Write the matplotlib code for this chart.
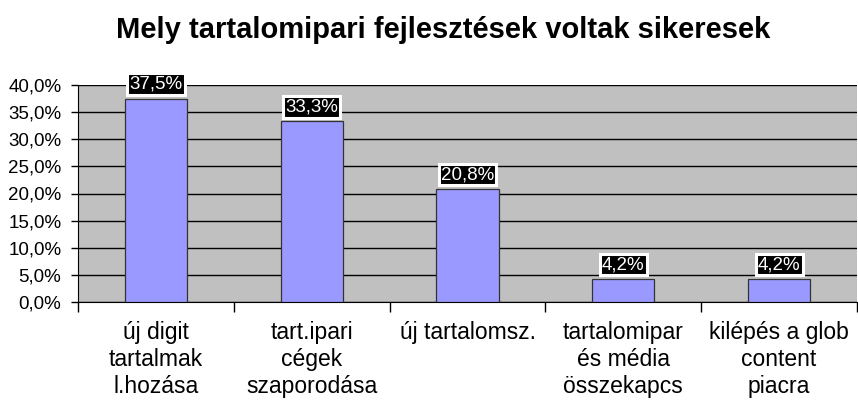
import numpy as np
import matplotlib.pyplot as plt
from matplotlib.ticker import FuncFormatter, MultipleLocator

plt.rcParams['font.family'] = ['Liberation Sans', 'DejaVu Sans']

# categories and their shares (percent)
categories = ['új digit\ntartalmak\nl.hozása', 'tart.ipari\ncégek\nszaporodása',
              'új tartalomsz.', 'tartalomipar\nés média\nösszekapcs', 'kilépés a glob\ncontent\npiacra']
values = [37.5, 33.3, 20.8, 4.2, 4.2]
value_labels = ['37,5%', '33,3%', '20,8%', '4,2%', '4,2%']

fig = plt.figure(figsize=(8.58, 4.09), dpi=100)
ax = fig.add_axes([78 / 858, 1 - 302 / 409, 779 / 858, 217 / 409])

x = np.arange(len(categories))
ax.set_facecolor('#C0C0C0')
ax.bar(x, values, width=0.4, color='#9999FF', edgecolor='#333333', linewidth=0.9, zorder=3)

for xi, v, lab in zip(x, values, value_labels):
    ax.text(xi, v + 1.1, lab, ha='center', va='bottom', color='white', fontsize=13.5, zorder=4,
            bbox=dict(boxstyle='square,pad=0.12', facecolor='black', edgecolor='white', linewidth=2.2))

ax.set_xlim(-0.5, len(categories) - 0.5)
ax.set_ylim(0, 40)
ax.yaxis.set_major_locator(MultipleLocator(5))
ax.yaxis.set_major_formatter(FuncFormatter(lambda v, p: f'{v:.1f}%'.replace('.', ',')))
ax.grid(axis='y', color='black', linewidth=1, zorder=1)
ax.tick_params(axis='y', labelsize=13.5, length=5, width=1, direction='out', pad=7)

ax.set_xticks(np.arange(len(categories) + 1) - 0.5)
ax.set_xticklabels([])
ax.set_xticks(x, minor=True)
ax.set_xticklabels(categories, minor=True, fontsize=16.5, linespacing=1.2)
ax.tick_params(axis='x', which='minor', length=0, pad=14)
ax.tick_params(axis='x', which='major', length=7, width=1, direction='out')

for s in ['top', 'right']:
    ax.spines[s].set_visible(False)
ax.spines['left'].set_color('black')
ax.spines['bottom'].set_color('black')

fig.text(0.517, 1 - 30 / 409, 'Mely tartalomipari fejlesztések voltak sikeresek',
         ha='center', va='center', fontsize=21, fontweight='bold')

fig.savefig('out.png', dpi=100)
